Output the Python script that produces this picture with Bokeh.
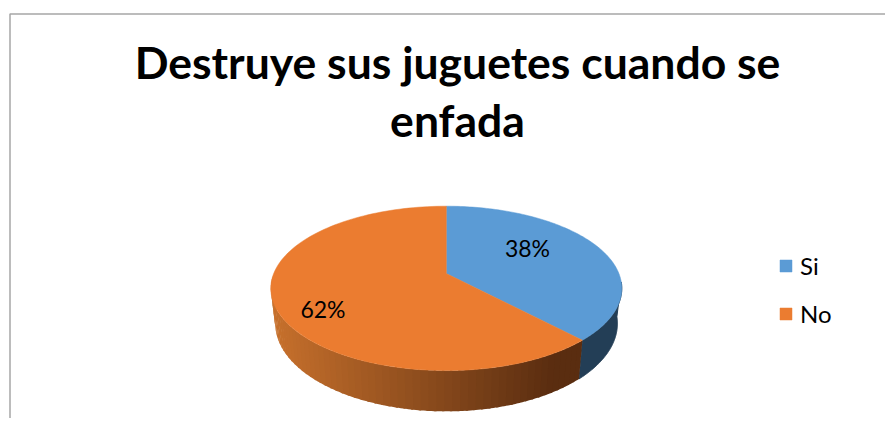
import math
from bokeh.plotting import figure
from bokeh.models import Range1d, Legend, LegendItem
from bokeh.core.properties import value
from bokeh.embed import file_html
from bokeh.resources import INLINE

title_lines = ["Destruye sus juguetes cuando se", "enfada"]
categories = ["Si", "No"]
percentages = [38, 62]
top_colors = ["#5B9BD5", "#EB7C30"]
FONT = "Lato"

# Pie projection (pixels of the picture)
CX, AY, B, A, K = 445.8, 273.0, 172.6, 79.5, 0.181
SX, SY, D = 0.975, 1.07, 34.0


def rim(theta_deg, lower=False):
    t = math.radians(theta_deg)
    u, v = math.sin(t), math.cos(t)
    w = 1 + K * v
    x, y = B * u / w, -A * v / w
    if lower:
        return CX + SX * x, AY + D + SY * y
    return CX + x, AY + y


def arc(a0, a1, lower=False, n=120):
    return [rim(a0 + (a1 - a0) * i / n, lower) for i in range(n + 1)]


def mix(c0, c1, f):
    return "#%02x%02x%02x" % tuple(round(a + (b - a) * f) for a, b in zip(c0, c1))


p = figure(width=885, height=418, output_backend="svg", toolbar_location=None,
           x_range=Range1d(0, 885), y_range=Range1d(418, 0),
           min_border=0, outline_line_color=None, background_fill_color="white")
p.axis.visible = False
p.grid.visible = False

# frame of the original picture
p.line([9.5, 9.5, 885], [418, 13.5, 13.5], line_color="#A6A6A6", line_width=1.5)

# sides
boundary = percentages[0] * 3.6
SIDE_START, SIDE_END = 96.0, 268.0
pts = arc(SIDE_START, boundary) + arc(boundary, SIDE_START, True)
p.patch([q[0] for q in pts], [q[1] for q in pts], fill_color="#233E56", line_color="#233E56")

n_strips = 60
LIGHT, DARK = (198, 112, 44), (90, 45, 16)
xs, ys, cols = [], [], []
for i in range(n_strips):
    a0 = boundary + (SIDE_END - boundary) * i / n_strips
    a1 = boundary + (SIDE_END - boundary) * (i + 1.3) / n_strips
    pts = arc(a0, min(a1, SIDE_END), n=4) + arc(min(a1, SIDE_END), a0, True, n=4)
    xs.append([q[0] for q in pts])
    ys.append([q[1] for q in pts])
    xm = rim((a0 + a1) / 2)[0]
    f = (xm - rim(SIDE_END)[0]) / (rim(boundary)[0] - 30 - rim(SIDE_END)[0])
    cols.append(mix(LIGHT, DARK, max(0, min(1, f))))
p.patches(xs, ys, fill_color=cols, line_color=None)

# top faces
renderers = []
start = 0.0
for pct, col in zip(percentages, top_colors):
    end = start + pct * 3.6
    pts = [(CX, AY)] + arc(start, end)
    r = p.patch([q[0] for q in pts], [q[1] for q in pts], fill_color=col, line_color=col, line_width=0.5)
    renderers.append(r)
    start = end

# data labels
p.text([527, 322.5], [247, 308.5], text=[f"{v}%" for v in percentages],
       text_font=value(FONT), text_font_size="23px", text_color="black",
       text_align="center", text_baseline="alphabetic")

# title
p.text([457, 457], [60.5, 119], text=title_lines, text_font=value(FONT), text_font_style="bold",
       text_font_size="44.5px", text_color="black", text_align="center", text_baseline="alphabetic")

legend = Legend(items=[LegendItem(label=c, renderers=[r]) for c, r in zip(categories, renderers)],
                location=(778, 90), orientation="vertical", border_line_color=None,
                background_fill_alpha=0, glyph_width=15, glyph_height=15, label_standoff=7,
                label_text_font=FONT, label_text_font_size="24px", label_text_color="black",
                spacing=19, margin=0, padding=8, label_height=27)
p.add_layout(legend)

open("out.html", "w").write(file_html(p, INLINE))
